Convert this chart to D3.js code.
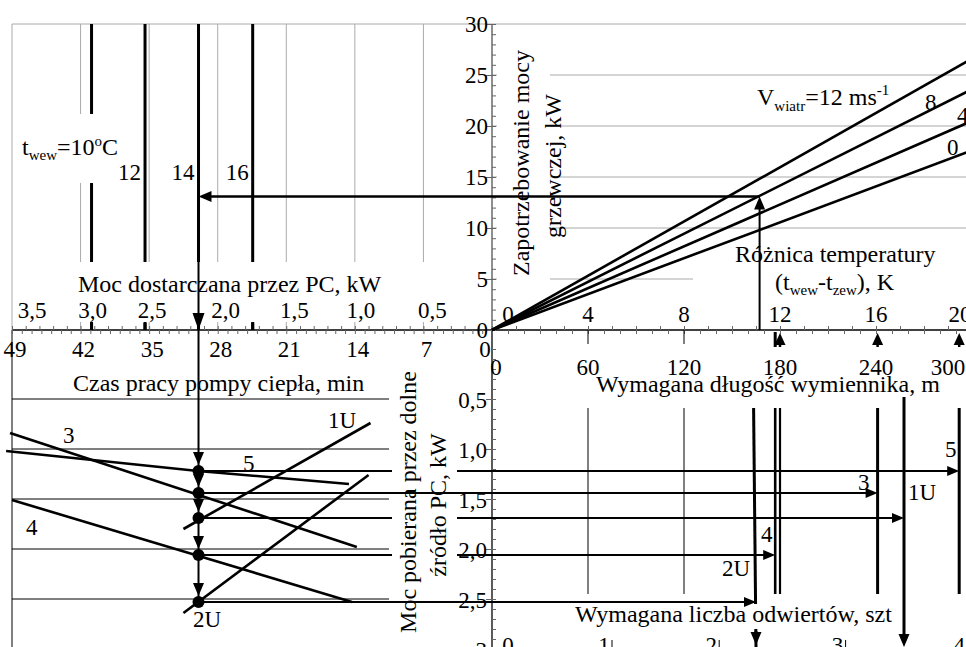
<!DOCTYPE html>
<html>
<head>
<meta charset="utf-8">
<script src="https://cdn.jsdelivr.net/npm/d3@7"></script>
<style>
  body { margin: 0; background: #fff; }
  text { font-family: "Liberation Serif", "Times New Roman", serif; font-size: 23px; fill: #000; }
  text.title { font-size: 24px; }
</style>
</head>
<body>
<div id="chart"></div>
<script>
// ---- data ----
// top right: heat demand vs temperature difference, one line per wind speed
const windSpeeds = [0, 4, 8, 12];
const heatAt20K = [17.6, 20.5, 23.6, 26.6];       // kW at dT = 20 K
const heatTicks = [0, 5, 10, 15, 20, 25, 30];
const dTTicks = [0, 4, 8, 12, 16, 20];

// top left: heat pump output for each indoor temperature
const pcTicks = [0.5, 1.0, 1.5, 2.0, 2.5, 3.0, 3.5];
const pcLabelShift = [9, 6, 8, 8, 3, 12, 20];     // labels sit right of their gridline
const tInside = [10, 12, 14, 16];
const pcAtTInside = [2.92, 2.53, 2.14, 1.745];

// bottom left: running time vs power taken from the ground, per exchanger type
const timeTicks = [0, 7, 14, 21, 28, 35, 42, 49];
const srcGrid = [0.5, 1.0, 1.5, 2.0, 2.5];
const srcTicks = [0.5, 1.0, 1.5, 2.0, 2.5, 3];
const srcLabels = ['0,5', '1,0', '1,5', '2,0', '2,5', '3'];
const curve3 = [[49.2, 0.84], [13.8, 1.98]];
const curve5 = [[49.6, 1.02], [30.0, 1.22], [14.6, 1.35]];
const curve4 = [[49.0, 1.51], [14.3, 2.53]];
const curve1U = [[31.5, 1.80], [12.4, 0.74]];
const curve2U = [[31.5, 2.64], [12.6, 1.26]];

// bottom right: required exchanger length for each type
const exNames = ['5', '3', '1U', '4', '2U'];
const exSrcPower = [1.22, 1.44, 1.69, 2.06, 2.53];   // kW at the working point
const exLength = [292, 241, 257.5, 177, 165];        // m
const lenTicks = [0, 60, 120, 180, 240, 300];
const boreholes = [0, 1, 2, 3, 4];
const boreholeLen = [0, 75, 142, 221, 297];

// worked example
const opDeltaT = 11.15, opHeat = 13.1, opTime = 29.9;

// ---- layout ----
const W = 966, H = 647;
const x0 = 492, y0 = 330;
const fmt = d3.formatLocale({decimal: ',', thousands: ' ', grouping: [3], currency: ['', '']}).format('.1f');

const xDT = d3.scaleLinear().domain([0, 20]).range([x0, 972]);
const xLen = d3.scaleLinear().domain([0, 300]).range([x0, 972]);
const yHeat = d3.scaleLinear().domain([0, 30]).range([y0, 24]);
const xPC = d3.scaleLinear().domain([0, 3.5]).range([x0, 12]);
const xTime = d3.scaleLinear().domain([0, 49]).range([x0, 12]);
const ySrc = d3.scaleLinear().domain([0, 3]).range([349, 649]);

const svg = d3.select('#chart').append('svg').attr('width', W).attr('height', H)
  .style('background', '#fff');

const gGrid = svg.append('g');
const gUnder = svg.append('g');
const gMask = svg.append('g');
const gOver = svg.append('g');
const gText = svg.append('g');

function seg(g, x1, y1, x2, y2, w, c) {
  return g.append('line').attr('x1', x1).attr('y1', y1).attr('x2', x2).attr('y2', y2)
    .attr('stroke', c || '#000').attr('stroke-width', w || 1);
}
function arrowHead(g, x, y, dir, L, hw) {
  L = L || 13; hw = hw || 5.5;
  const pts = {
    down: [[x, y], [x - hw, y - L], [x + hw, y - L]],
    up: [[x, y], [x - hw, y + L], [x + hw, y + L]],
    left: [[x, y], [x + L, y - hw], [x + L, y + hw]],
    right: [[x, y], [x - L, y - hw], [x - L, y + hw]]
  }[dir];
  g.append('path').attr('d', d3.line()(pts) + 'Z').attr('fill', '#000');
}
const lineTP = d3.line().x(d => xTime(d[0])).y(d => ySrc(d[1]));

// ---- grids ----
gGrid.selectAll('.pcgrid').data(pcTicks.filter(v => v < 3.5)).join('line')
  .attr('x1', d => xPC(d)).attr('x2', d => xPC(d)).attr('y1', yHeat(30)).attr('y2', y0)
  .attr('stroke', '#aaa');
gGrid.selectAll('.hgrid').data(heatTicks.filter(v => v > 0)).join('line')
  .attr('x1', x0).attr('x2', W).attr('y1', d => yHeat(d)).attr('y2', d => yHeat(d))
  .attr('stroke', '#aaa');
seg(gGrid, xPC(3.5), yHeat(30), x0, yHeat(30), 1, '#aaa');
seg(gGrid, xPC(3.5), yHeat(30), xPC(3.5), y0, 1, '#aaa');
seg(gGrid, xPC(3.5), y0, xPC(3.5), H, 1, '#000');
gGrid.selectAll('.sgrid').data(srcGrid).join('line')
  .attr('x1', xTime(49)).attr('x2', 389).attr('y1', d => ySrc(d)).attr('y2', d => ySrc(d))
  .attr('stroke', '#000');
gGrid.selectAll('.lgrid').data([60, 120]).join('line')
  .attr('x1', d => xLen(d)).attr('x2', d => xLen(d)).attr('y1', ySrc(0.59)).attr('y2', ySrc(2.45))
  .attr('stroke', '#000');

// ---- lines that get interrupted by label boxes ----
gUnder.selectAll('.tin').data(pcAtTInside).join('line')
  .attr('x1', d => xPC(d)).attr('x2', d => xPC(d)).attr('y1', yHeat(30)).attr('y2', y0)
  .attr('stroke', '#000').attr('stroke-width', 3);
exNames.forEach((n, i) => {
  if (n === '3' || n === '2U') return;
  seg(gUnder, xTime(opTime), ySrc(exSrcPower[i]), xLen(exLength[i]) - 8, ySrc(exSrcPower[i]), 2);
});
// 2U length line (slightly slanted), cut by bottom label
seg(gUnder, xLen(163.5), ySrc(0.59), xLen(exLength[4]), ySrc(2.98), 3);

// ---- white label boxes ----
[[13, 262, 476, 60], [14, 114, 114, 69], [497, 40, 53, 260], [693, 238, W - 693, 62],
 [392, 358, 65, 282], [560, 604, 340, 25]].forEach(b => {
  gMask.append('rect').attr('x', b[0]).attr('y', b[1]).attr('width', b[2]).attr('height', b[3])
    .attr('fill', '#fff');
});

// ---- axes ----
seg(gOver, xPC(3.5), y0, W, y0, 1.5);
seg(gOver, x0, yHeat(30), x0, y0, 1.2, '#444');
seg(gOver, x0, y0, x0, H, 1.3);

function ticks(g, axis) {
  g.call(axis).call(s => s.select('.domain').remove())
    .call(s => s.selectAll('line').attr('stroke', '#666'));
}
ticks(gOver.append('g').attr('transform', `translate(${x0},0)`),
  d3.axisRight(yHeat).tickValues(d3.range(0, 30.01, 1)).tickSize(4).tickFormat(''));
ticks(gOver.append('g').attr('transform', `translate(${x0},0)`),
  d3.axisLeft(yHeat).tickValues(heatTicks).tickSize(6).tickFormat(''));
ticks(gOver.append('g').attr('transform', `translate(${x0},0)`),
  d3.axisRight(ySrc).tickValues(d3.range(0, 3.01, 0.1)).tickSize(4).tickFormat(''));
ticks(gOver.append('g').attr('transform', `translate(${x0},0)`),
  d3.axisLeft(ySrc).tickValues(srcTicks).tickSize(6).tickFormat(''));
ticks(gOver.append('g').attr('transform', `translate(0,${y0})`),
  d3.axisTop(xDT).tickValues(d3.range(0, 20.01, 1)).tickSize(4).tickFormat(''));
ticks(gOver.append('g').attr('transform', `translate(0,${y0})`),
  d3.axisBottom(xLen).tickValues(d3.range(0, 300.1, 10)).tickSize(4).tickFormat(''));
ticks(gOver.append('g').attr('transform', `translate(0,${y0})`),
  d3.axisTop(xPC).tickValues(d3.range(0, 3.51, 0.1)).tickSize(4).tickFormat(''));
ticks(gOver.append('g').attr('transform', `translate(0,${y0})`),
  d3.axisBottom(xTime).tickValues(d3.range(0, 49.1, 1)).tickSize(4).tickFormat(''));
gOver.selectAll('.lmaj').data([60, 120]).join('line')
  .attr('x1', d => xLen(d)).attr('x2', d => xLen(d)).attr('y1', y0).attr('y2', y0 + 14)
  .attr('stroke', '#000');

// short stubs of the indoor temperature lines under the label row
gOver.selectAll('.tstub').data(pcAtTInside).join('line')
  .attr('x1', d => xPC(d)).attr('x2', d => xPC(d)).attr('y1', 323).attr('y2', y0)
  .attr('stroke', '#000').attr('stroke-width', 3);

// ---- wind lines ----
gOver.selectAll('.wind').data(heatAt20K).join('line')
  .attr('x1', xDT(0)).attr('y1', yHeat(0)).attr('x2', xDT(20)).attr('y2', d => yHeat(d))
  .attr('stroke', '#000').attr('stroke-width', 2.6);

// ---- worked example path ----
const px = xPC(pcAtTInside[2]);
seg(gOver, xDT(opDeltaT), y0, xDT(opDeltaT), yHeat(opHeat) + 10, 2);
arrowHead(gOver, xDT(opDeltaT), yHeat(opHeat), 'up');
seg(gOver, xDT(opDeltaT), yHeat(opHeat), px + 10, yHeat(opHeat), 2.5);
arrowHead(gOver, px, yHeat(opHeat), 'left');
seg(gOver, px, yHeat(opHeat), px, ySrc(exSrcPower[4]), 2);
arrowHead(gOver, px, y0, 'down', 17, 6);
exSrcPower.forEach(v => arrowHead(gOver, px, ySrc(v) - 6, 'down'));

// curves
[curve3, curve5, curve4, curve1U, curve2U].forEach(c => {
  gOver.append('path').attr('d', lineTP(c)).attr('fill', 'none')
    .attr('stroke', '#000').attr('stroke-width', 2.6);
});
gOver.selectAll('.dot').data(exSrcPower).join('circle')
  .attr('cx', px).attr('cy', d => ySrc(d)).attr('r', 6).attr('fill', '#000');

// transfer lines drawn over the rotated label
exNames.forEach((n, i) => {
  if (n === '3' || n === '2U') seg(gOver, px, ySrc(exSrcPower[i]), xLen(exLength[i]) - 8, ySrc(exSrcPower[i]), 2);
  arrowHead(gOver, xLen(exLength[i]), ySrc(exSrcPower[i]), 'right', 12, 5);
});

// required length lines
seg(gOver, xLen(exLength[3]), ySrc(0.59), xLen(exLength[3]), ySrc(2.45), 2.6);
seg(gOver, xLen(180), ySrc(0.59), xLen(180), ySrc(2.45), 2.2);
seg(gOver, xLen(exLength[1]), ySrc(0.59), xLen(exLength[1]), ySrc(2.45), 3);
seg(gOver, xLen(exLength[0]), ySrc(0.59), xLen(exLength[0]), ySrc(2.45), 3);
seg(gOver, xLen(exLength[2]), ySrc(0.48), xLen(exLength[2]), H - 10, 3);
arrowHead(gOver, xLen(exLength[2]), H, 'down');
arrowHead(gOver, xLen(exLength[4]), H - 2, 'down');
seg(gOver, xLen(exLength[4]), H - 16, xLen(exLength[4]), H - 12, 3);

// marks under the temperature axis
seg(gOver, xLen(exLength[3]), y0 + 2, xLen(exLength[3]), y0 + 17, 3);
[180, exLength[1], exLength[0]].forEach(v => {
  arrowHead(gOver, xLen(v), y0 + 3, 'up', 12, 5.5);
  seg(gOver, xLen(v), y0 + 10, xLen(v), y0 + 17, 2.5);
});
// borehole ticks
gOver.selectAll('.bh').data(boreholeLen.slice(1, 4)).join('line')
  .attr('x1', d => xLen(d)).attr('x2', d => xLen(d)).attr('y1', H - 7).attr('y2', H)
  .attr('stroke', '#000');

// ---- text ----
function label(x, y, s, anchor, cls) {
  return gText.append('text').attr('x', x).attr('y', y).attr('text-anchor', anchor || 'start')
    .attr('class', cls || null).text(s);
}
function rich(x, y, parts) {
  const t = gText.append('text').attr('x', x).attr('y', y).attr('class', 'title');
  parts.forEach(p => {
    const ts = t.append('tspan').text(p[0]);
    if (p[1]) ts.attr('font-size', 15).attr('dy', p[1]);
    if (p[2]) ts.attr('dy', p[2]);
  });
  return t;
}
function vtitle(x, y, s) {
  gText.append('text').attr('class', 'title').attr('transform', `translate(${x},${y}) rotate(-90)`)
    .attr('text-anchor', 'middle').text(s);
}

// top left
label(78, 292, 'Moc dostarczana przez PC, kW', 'start', 'title');
pcTicks.forEach((v, i) => label(xPC(v) + pcLabelShift[i], 318, fmt(v), 'middle'));
rich(22, 155, [['t'], ['wew', 5], ['=10', 0, -5], ['o', -9], ['C', 0, 9]]);
tInside.slice(1).forEach((t, i) => label(xPC(pcAtTInside[i + 1]) - 27, 180, t));

// top right
heatTicks.forEach(v => label(488, yHeat(v) + 8, v, 'end'));
dTTicks.forEach(v => label(v === 0 ? xDT(v) + 16 : Math.min(xDT(v), 960), 322, v, 'middle'));
label(735, 262, 'Różnica temperatury', 'start', 'title');
rich(775, 290, [['(t'], ['wew', 5], ['-t', 0, -5], ['zew', 5], ['), K', 0, -5]]);
rich(757, 105, [['V'], ['wiatr', 6], ['=12 ms', 0, -6], ['-1', -10], ['', 0, 10]]);
label(925, 110, windSpeeds[2]);
label(957, 123, windSpeeds[1]);
label(947, 155, windSpeeds[0]);
vtitle(529, 163, 'Zapotrzebowanie mocy');
vtitle(561, 166, 'grzewczej, kW');

// bottom left
timeTicks.forEach(v => label(v === 0 ? xTime(v) - 7 : xTime(v) + 3, 357, v, 'middle'));
label(73, 391, 'Czas pracy pompy ciepła, min', 'start', 'title');
label(63, 443, exNames[1]);
label(243, 471, exNames[0]);
label(328, 428, exNames[2]);
label(26, 535, exNames[3]);
label(193, 627, exNames[4]);

// bottom right
srcTicks.forEach((v, i) => label(487, ySrc(v) + 9, srcLabels[i], 'end'));
vtitle(416, ySrc(1.53), 'Moc pobierana przez dolne');
vtitle(446, ySrc(1.56), 'źródło PC, kW');
lenTicks.forEach(v => label(v === 0 ? xLen(v) + 4 : Math.min(xLen(v), 948), 375, v, 'middle'));
label(596, 392, 'Wymagana długość wymiennika, m', 'start', 'title');
label(575, 622, 'Wymagana liczba odwiertów, szt', 'start', 'title');
boreholes.forEach((b, i) => label(i === 0 ? xLen(0) + 16 : xLen(boreholeLen[i]) - 8, 653, b, 'middle'));
label(945, 457, exNames[0]);
label(858, 490, exNames[1]);
label(908, 500, exNames[2]);
label(761, 542, exNames[3]);
label(722, 576, exNames[4]);
</script>
</body>
</html>
